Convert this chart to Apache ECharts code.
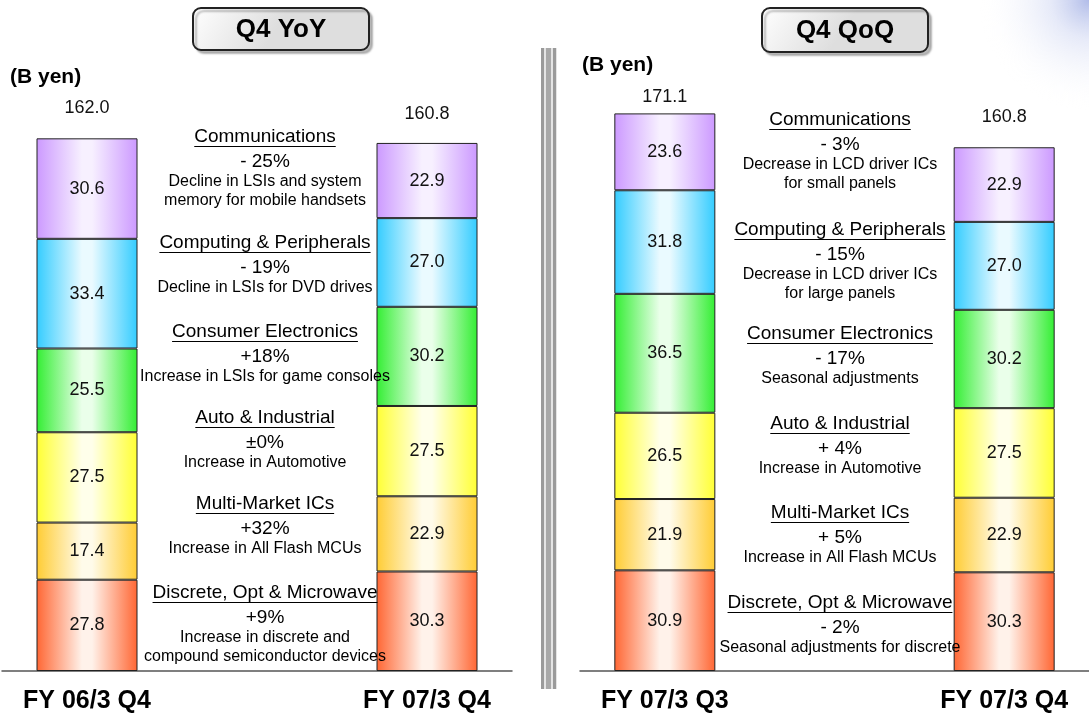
<!DOCTYPE html>
<html>
<head>
<meta charset="utf-8">
<script src="https://cdn.jsdelivr.net/npm/echarts@6/dist/echarts.min.js"></script>
<style>
  * { margin: 0; padding: 0; }
  html, body { background: #fff; }
  #chart-container { width: 1089px; height: 717px; }
</style>
</head>
<body>
<div id="chart-container"></div>
<script>
  // segments, bottom of the stack first
  var segments = ['Discrete, Opt & Microwave', 'Multi-Market ICs', 'Auto & Industrial',
    'Consumer Electronics', 'Computing & Peripherals', 'Communications']

  var yoyCategories = ['FY 06/3 Q4', 'FY 07/3 Q4']
  var yoyPrev = [27.8, 17.4, 27.5, 25.5, 33.4, 30.6]
  var yoyCurr = [30.3, 22.9, 27.5, 30.2, 27.0, 22.9]
  var yoyTotals = [162.0, 160.8]
  var yoyChange = ['+9%', '+32%', '\u00b10%', '+18%', '- 19%', '- 25%']
  var yoyReason = ['Increase in discrete and\ncompound semiconductor devices', 'Increase in All Flash MCUs',
    'Increase in Automotive', 'Increase in LSIs for game consoles', 'Decline in LSIs for DVD drives',
    'Decline in LSIs and system\nmemory for mobile handsets']

  var qoqCategories = ['FY 07/3 Q3', 'FY 07/3 Q4']
  var qoqPrev = [30.9, 21.9, 26.5, 36.5, 31.8, 23.6]
  var qoqCurr = [30.3, 22.9, 27.5, 30.2, 27.0, 22.9]
  var qoqTotals = [171.1, 160.8]
  var qoqChange = ['- 2%', '+ 5%', '+ 4%', '- 17%', '- 15%', '- 3%']
  var qoqReason = ['Seasonal adjustments for discrete', 'Increase in All Flash MCUs',
    'Increase in Automotive', 'Seasonal adjustments', 'Decrease in LCD driver ICs\nfor large panels',
    'Decrease in LCD driver ICs\nfor small panels']

  var FONT = '"Liberation Sans", Arial, sans-serif'
  var edgeColors = ['#ff6633', '#ffcc33', '#ffff33', '#33ee33', '#33ccff', '#cc99ff']
  var midColors = ['#fff2ea', '#fffbea', '#ffffea', '#eaffea', '#eafaff', '#f7f0ff']

  var chartDom = document.getElementById('chart-container')
  var myChart = echarts.init(chartDom, null, { renderer: 'canvas' })

  var measure = document.createElement('canvas').getContext('2d')
  function textWidth(str, font) {
    measure.font = font
    return measure.measureText(str).width
  }

  function fill(i) {
    return {
      type: 'linear', x: 0, y: 0, x2: 1, y2: 0,
      colorStops: [
        { offset: 0, color: edgeColors[i] },
        { offset: 0.45, color: midColors[i] },
        { offset: 0.55, color: midColors[i] },
        { offset: 1, color: edgeColors[i] }
      ]
    }
  }

  function panelSeries(idx, prev, curr, totals, gaps) {
    var out = []
    segments.forEach(function (name, i) {
      out.push({
        type: 'bar', name: name, stack: 'p' + idx,
        xAxisIndex: idx, yAxisIndex: idx,
        barWidth: 101,
        data: [prev[i], '-', curr[i]],
        itemStyle: { color: fill(i), borderColor: '#222', borderWidth: 1 },
        label: {
          show: true, position: 'inside', color: '#111',
          fontSize: 18, fontFamily: FONT,
          formatter: function (p) { return p.value.toFixed(1) }
        }
      })
    })
    out.push({
      type: 'bar', name: 'total', xAxisIndex: idx, yAxisIndex: idx,
      barWidth: 101, barGap: '-100%', z: 1,
      data: [
        { value: totals[0], label: { distance: gaps[0] } }, '-',
        { value: totals[1], label: { distance: gaps[1] } }
      ],
      itemStyle: { color: 'rgba(0,0,0,0)' },
      label: {
        show: true, position: 'top', color: '#111',
        fontSize: 18, fontFamily: FONT,
        formatter: function (p) { return p.value.toFixed(1) }
      }
    })
    return out
  }

  function axisX(idx, cats) {
    return {
      type: 'category', gridIndex: idx,
      data: [cats[0], '', cats[1]],
      axisLine: { lineStyle: { color: '#555', width: 1.5 } },
      axisTick: { show: false },
      axisLabel: { color: '#000', fontSize: 25, fontWeight: 'bold', fontFamily: FONT, margin: 18, interval: 0 }
    }
  }

  function notes(cx, ys, change, reason) {
    var g = []
    segments.forEach(function (name, i) {
      var y = ys[i]
      var tf = '19px ' + FONT
      var w = textWidth(name, tf)
      g.push({ type: 'text', x: cx, y: y, z: 100,
        style: { text: name, fill: '#000', font: tf, align: 'center', verticalAlign: 'middle' } })
      g.push({ type: 'line', z: 100,
        shape: { x1: cx - w / 2, y1: y + 9.5, x2: cx + w / 2, y2: y + 9.5 },
        style: { stroke: '#000', lineWidth: 1 } })
      g.push({ type: 'text', x: cx, y: y + 24.5, z: 100,
        style: { text: change[i], fill: '#000', font: tf, align: 'center', verticalAlign: 'middle' } })
      reason[i].split('\n').forEach(function (line, k) {
        g.push({ type: 'text', x: cx, y: y + 44.5 + k * 19.5, z: 100,
          style: { text: line, fill: '#000', font: '16px ' + FONT, align: 'center', verticalAlign: 'middle' } })
      })
    })
    return g
  }

  function titleBox(x, y, w, h, text) {
    return {
      type: 'group', x: x, y: y, z: 100,
      children: [
        { type: 'rect', shape: { x: 0, y: 0, width: w, height: h, r: 8 },
          style: {
            fill: { type: 'linear', x: 0, y: 0, x2: 0.4, y2: 1,
              colorStops: [{ offset: 0, color: '#ffffff' }, { offset: 1, color: '#dedede' }] },
            stroke: '#222', lineWidth: 2,
            shadowColor: 'rgba(0,0,0,0.25)', shadowOffsetX: 3, shadowOffsetY: 3, shadowBlur: 2
          } },
        { type: 'text', x: w / 2, y: h / 2 + 1,
          style: { text: text, fill: '#000', font: 'bold 26px ' + FONT, align: 'center', verticalAlign: 'middle' } }
      ]
    }
  }

  var graphics = [
    { type: 'rect', z: -10, shape: { x: 700, y: 0, width: 389, height: 110 },
      style: { fill: { type: 'radial', x: 1, y: 0, r: 1,
        colorStops: [{ offset: 0, color: 'rgba(150,165,225,0.75)' }, { offset: 0.35, color: 'rgba(200,208,240,0.45)' },
          { offset: 1, color: 'rgba(255,255,255,0)' }] } } },
    { type: 'rect', shape: { x: 541, y: 48, width: 16, height: 641 }, style: { fill: '#e4e4e4' } },
    { type: 'rect', shape: { x: 541, y: 48, width: 3, height: 641 }, style: { fill: '#9a9a9a' } },
    { type: 'rect', shape: { x: 546, y: 48, width: 5, height: 641 }, style: { fill: '#a8a8a8' } },
    { type: 'rect', shape: { x: 553, y: 48, width: 3, height: 641 }, style: { fill: '#9a9a9a' } },
    titleBox(193, 8, 176, 42, 'Q4 YoY'),
    titleBox(762, 8, 166, 44, 'Q4 QoQ'),
    { type: 'text', x: 10, y: 77, style: { text: '(B yen)', fill: '#000', font: 'bold 21px ' + FONT, verticalAlign: 'middle' } },
    { type: 'text', x: 582, y: 65, style: { text: '(B yen)', fill: '#000', font: 'bold 21px ' + FONT, verticalAlign: 'middle' } }
  ]
  graphics = graphics.concat(notes(265, [593, 504, 418, 332, 243, 137], yoyChange, yoyReason))
  graphics = graphics.concat(notes(840, [603, 513, 424, 334, 230, 120], qoqChange, qoqReason))

  var option = {
    animation: false,
    grid: [
      { left: 2, width: 510, top: 14.2, bottom: 46 },
      { left: 580, width: 517.5, top: 19.6, bottom: 46 }
    ],
    xAxis: [axisX(0, yoyCategories), axisX(1, qoqCategories)],
    yAxis: [
      { type: 'value', gridIndex: 0, min: 0, max: 200, show: false },
      { type: 'value', gridIndex: 1, min: 0, max: 200, show: false }
    ],
    series: panelSeries(0, yoyPrev, yoyCurr, yoyTotals, [22, 20])
      .concat(panelSeries(1, qoqPrev, qoqCurr, qoqTotals, [8, 21])),
    graphic: graphics
  }
  myChart.setOption(option)
  window.addEventListener('resize', myChart.resize)
</script>
</body>
</html>
